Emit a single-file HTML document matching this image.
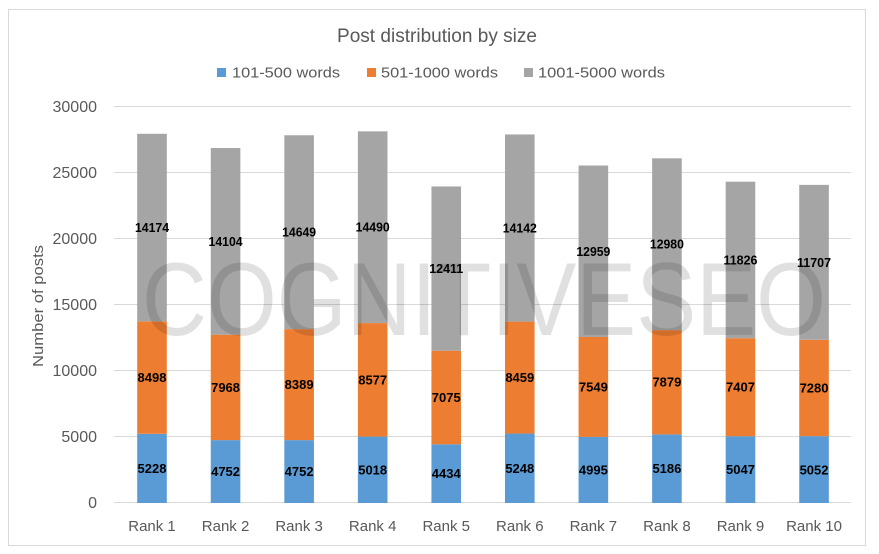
<!DOCTYPE html>
<html>
<head>
<meta charset="utf-8">
<style>
html,body{margin:0;padding:0;background:#fff;}
svg{display:block;}
text{font-family:"Liberation Sans",Arial,sans-serif;}
</style>
</head>
<body>
<svg width="879" height="554" viewBox="0 0 879 554" xmlns="http://www.w3.org/2000/svg">
<rect x="0" y="0" width="879" height="554" fill="#fff"/>
<rect x="8.5" y="9.5" width="857" height="536" fill="#fff" stroke="#d9d9d9" stroke-width="1"/>

<!-- title -->
<text x="437" y="42" font-size="19" fill="#595959" text-anchor="middle" textLength="200" lengthAdjust="spacingAndGlyphs">Post distribution by size</text>

<!-- legend -->
<rect x="217" y="68" width="9" height="9" fill="#5B9BD5"/>
<text x="232" y="77.5" font-size="15" fill="#595959" textLength="108" lengthAdjust="spacingAndGlyphs">101-500 words</text>
<rect x="367" y="68" width="9" height="9" fill="#ED7D31"/>
<text x="381" y="77.5" font-size="15" fill="#595959" textLength="117" lengthAdjust="spacingAndGlyphs">501-1000 words</text>
<rect x="524" y="68" width="9" height="9" fill="#A5A5A5"/>
<text x="538" y="77.5" font-size="15" fill="#595959" textLength="127" lengthAdjust="spacingAndGlyphs">1001-5000 words</text>

<!-- gridlines -->
<g stroke="#d9d9d9" stroke-width="1">
<line x1="114" y1="106.5" x2="851" y2="106.5"/>
<line x1="114" y1="172.5" x2="851" y2="172.5"/>
<line x1="114" y1="238.5" x2="851" y2="238.5"/>
<line x1="114" y1="304.5" x2="851" y2="304.5"/>
<line x1="114" y1="370.5" x2="851" y2="370.5"/>
<line x1="114" y1="436.5" x2="851" y2="436.5"/>
<line x1="114" y1="502.5" x2="851" y2="502.5"/>
</g>

<!-- y ticks -->
<g font-size="16" fill="#595959" text-anchor="end">
<text x="97" y="112">30000</text>
<text x="97" y="178">25000</text>
<text x="97" y="244">20000</text>
<text x="97" y="310">15000</text>
<text x="97" y="376">10000</text>
<text x="97" y="442">5000</text>
<text x="97" y="508">0</text>
</g>

<!-- y axis title -->
<text transform="translate(43,306) rotate(-90)" font-size="15" fill="#595959" text-anchor="middle" textLength="122" lengthAdjust="spacingAndGlyphs">Number of posts</text>

<!-- bars -->
<g>
<rect x="137.2" y="433.82" width="29.6" height="69.18" fill="#5B9BD5"/>
<rect x="137.2" y="321.36" width="29.6" height="112.46" fill="#ED7D31"/>
<rect x="137.2" y="133.79" width="29.6" height="187.57" fill="#A5A5A5"/>
<rect x="210.76" y="440.12" width="29.6" height="62.88" fill="#5B9BD5"/>
<rect x="210.76" y="334.68" width="29.6" height="105.44" fill="#ED7D31"/>
<rect x="210.76" y="148.04" width="29.6" height="186.64" fill="#A5A5A5"/>
<rect x="284.32" y="440.12" width="29.6" height="62.88" fill="#5B9BD5"/>
<rect x="284.32" y="329.11" width="29.6" height="111.01" fill="#ED7D31"/>
<rect x="284.32" y="135.25" width="29.6" height="193.86" fill="#A5A5A5"/>
<rect x="357.88" y="436.59" width="29.6" height="66.41" fill="#5B9BD5"/>
<rect x="357.88" y="323.09" width="29.6" height="113.5" fill="#ED7D31"/>
<rect x="357.88" y="131.34" width="29.6" height="191.75" fill="#A5A5A5"/>
<rect x="431.44" y="444.32" width="29.6" height="58.68" fill="#5B9BD5"/>
<rect x="431.44" y="350.69" width="29.6" height="93.63" fill="#ED7D31"/>
<rect x="431.44" y="186.45" width="29.6" height="164.24" fill="#A5A5A5"/>
<rect x="505.0" y="433.55" width="29.6" height="69.45" fill="#5B9BD5"/>
<rect x="505.0" y="321.61" width="29.6" height="111.94" fill="#ED7D31"/>
<rect x="505.0" y="134.46" width="29.6" height="187.15" fill="#A5A5A5"/>
<rect x="578.56" y="436.9" width="29.6" height="66.1" fill="#5B9BD5"/>
<rect x="578.56" y="337.0" width="29.6" height="99.9" fill="#ED7D31"/>
<rect x="578.56" y="165.51" width="29.6" height="171.49" fill="#A5A5A5"/>
<rect x="652.12" y="434.37" width="29.6" height="68.63" fill="#5B9BD5"/>
<rect x="652.12" y="330.1" width="29.6" height="104.27" fill="#ED7D31"/>
<rect x="652.12" y="158.33" width="29.6" height="171.77" fill="#A5A5A5"/>
<rect x="725.68" y="436.21" width="29.6" height="66.79" fill="#5B9BD5"/>
<rect x="725.68" y="338.19" width="29.6" height="98.02" fill="#ED7D31"/>
<rect x="725.68" y="181.69" width="29.6" height="156.5" fill="#A5A5A5"/>
<rect x="799.24" y="436.14" width="29.6" height="66.86" fill="#5B9BD5"/>
<rect x="799.24" y="339.8" width="29.6" height="96.34" fill="#ED7D31"/>
<rect x="799.24" y="184.88" width="29.6" height="154.92" fill="#A5A5A5"/>
</g>

<!-- watermark -->
<text x="142" y="335" font-size="104" fill="#000" fill-opacity="0.12" textLength="684" lengthAdjust="spacingAndGlyphs">COGNITIVESEO</text>

<!-- data labels -->
<g font-size="13" font-weight="bold" fill="#000" text-anchor="middle">
<text x="152" y="473">5228</text>
<text x="152" y="382">8498</text>
<text x="152" y="232" textLength="34" lengthAdjust="spacingAndGlyphs">14174</text>

<text x="225.56" y="476">4752</text>
<text x="225.56" y="392">7968</text>
<text x="225.56" y="246" textLength="34" lengthAdjust="spacingAndGlyphs">14104</text>

<text x="299.12" y="476">4752</text>
<text x="299.12" y="389">8389</text>
<text x="299.12" y="236.7" textLength="34" lengthAdjust="spacingAndGlyphs">14649</text>

<text x="372.68" y="474.3">5018</text>
<text x="372.68" y="384.3">8577</text>
<text x="372.68" y="231.7" textLength="34" lengthAdjust="spacingAndGlyphs">14490</text>

<text x="446.24" y="478.2">4434</text>
<text x="446.24" y="402">7075</text>
<text x="446.24" y="273.1" textLength="34" lengthAdjust="spacingAndGlyphs">12411</text>

<text x="519.8" y="472.8">5248</text>
<text x="519.8" y="382.1">8459</text>
<text x="519.8" y="232.5" textLength="34" lengthAdjust="spacingAndGlyphs">14142</text>

<text x="593.36" y="474.5">4995</text>
<text x="593.36" y="391.5">7549</text>
<text x="593.36" y="255.8" textLength="34" lengthAdjust="spacingAndGlyphs">12959</text>

<text x="666.92" y="473.2">5186</text>
<text x="666.92" y="386.7">7879</text>
<text x="666.92" y="248.7" textLength="34" lengthAdjust="spacingAndGlyphs">12980</text>

<text x="740.48" y="474.1">5047</text>
<text x="740.48" y="391.7">7407</text>
<text x="740.48" y="264.5" textLength="34" lengthAdjust="spacingAndGlyphs">11826</text>

<text x="814.04" y="474.5">5052</text>
<text x="814.04" y="392.5">7280</text>
<text x="814.04" y="266.8" textLength="34" lengthAdjust="spacingAndGlyphs">11707</text>
</g>

<!-- category labels -->
<g font-size="15" fill="#595959" text-anchor="middle">
<text x="152" y="531">Rank 1</text>
<text x="225.56" y="531">Rank 2</text>
<text x="299.12" y="531">Rank 3</text>
<text x="372.68" y="531">Rank 4</text>
<text x="446.24" y="531">Rank 5</text>
<text x="519.8" y="531">Rank 6</text>
<text x="593.36" y="531">Rank 7</text>
<text x="666.92" y="531">Rank 8</text>
<text x="740.48" y="531">Rank 9</text>
<text x="814.04" y="531">Rank 10</text>
</g>
</svg>
</body>
</html>
